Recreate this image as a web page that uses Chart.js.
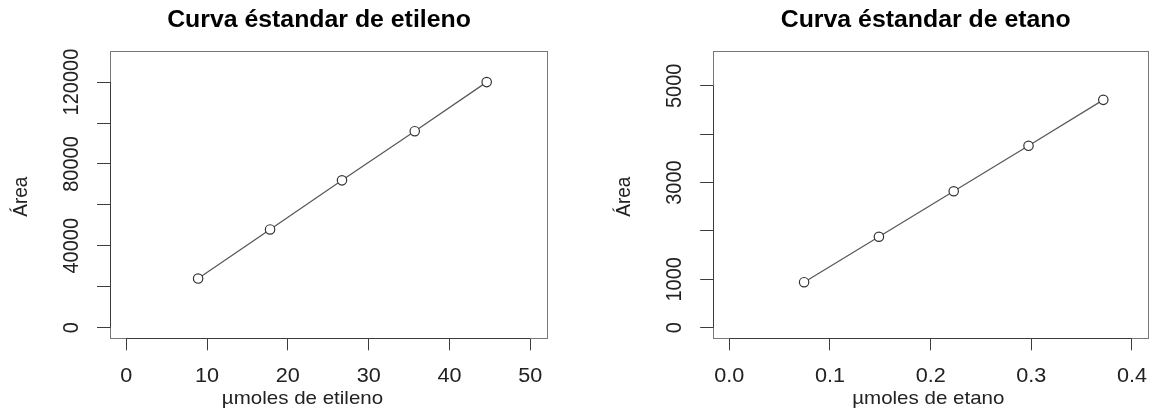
<!DOCTYPE html>
<html>
<head>
<meta charset="utf-8">
<script src="https://cdn.jsdelivr.net/npm/chart.js@4.4.1/dist/chart.umd.min.js"></script>
<style>
  html, body { margin: 0; padding: 0; background: #fff; }
  #wrap { position: relative; width: 1154px; height: 412px; }
  canvas { position: absolute; top: 0; }
  #etileno { left: 0; }
  #etano { left: 577px; }
</style>
</head>
<body>
<div id="wrap">
  <canvas id="etileno" width="577" height="412"></canvas>
  <canvas id="etano" width="577" height="412"></canvas>
</div>
<script>
// calibration points (µmol vs. peak area)
const etilenoUmol = [8.9, 17.8, 26.7, 35.7, 44.6];
const etilenoArea = [24000, 48000, 72000, 96000, 120000];
const etanoUmol = [0.0743, 0.1486, 0.2229, 0.2972, 0.3715];
const etanoArea = [940, 1880, 2820, 3760, 4710];

// axis ticks (R style: every tick gets a mark, only some get a label)
const etilenoXTicks = [0, 10, 20, 30, 40, 50];
const etilenoYTicks = [0, 20000, 40000, 60000, 80000, 100000, 120000];
const etilenoYLabels = [0, 40000, 80000, 120000];
const etanoXTicks = [0, 0.1, 0.2, 0.3, 0.4];
const etanoYTicks = [0, 1000, 2000, 3000, 4000, 5000];
const etanoYLabels = [0, 1000, 3000, 5000];

const FONT = '"Liberation Sans", Arial, Helvetica, sans-serif';
const SX = 1.08; // text is a little wider than tall

Chart.defaults.font.family = FONT;

function wideText(ctx, text, x, y, rotate) {
  ctx.save();
  ctx.translate(x, y);
  ctx.scale(SX, 1);
  if (rotate) ctx.rotate(-Math.PI / 2);
  ctx.fillText(text, 0, 0);
  ctx.restore();
}

// box, axis lines and all the text, drawn the way base R does it
const rAxes = {
  id: "rAxes",
  afterDraw(chart, args, o) {
    const ctx = chart.ctx;
    const a = chart.chartArea;
    const xs = chart.scales.x;
    const ys = chart.scales.y;

    ctx.save();
    ctx.strokeStyle = "#777";
    ctx.lineWidth = 1;
    ctx.strokeRect(Math.round(a.left) + 0.5, Math.round(a.top) + 0.5,
      Math.round(a.right - a.left), Math.round(a.bottom - a.top));

    ctx.strokeStyle = "#3c3c3c";
    ctx.beginPath();
    const yb = Math.round(a.bottom) + 0.5;
    ctx.moveTo(xs.getPixelForValue(o.xTicks[0]), yb);
    ctx.lineTo(xs.getPixelForValue(o.xTicks[o.xTicks.length - 1]), yb);
    const xl = Math.round(a.left) + 0.5;
    ctx.moveTo(xl, ys.getPixelForValue(o.yTicks[0]));
    ctx.lineTo(xl, ys.getPixelForValue(o.yTicks[o.yTicks.length - 1]));
    ctx.stroke();

    ctx.fillStyle = "#222";
    ctx.font = "20px " + FONT;
    ctx.textAlign = "center";
    ctx.textBaseline = "alphabetic";
    o.xTicks.forEach((v) => {
      wideText(ctx, o.xFormat(v), xs.getPixelForValue(v), 381.5);
    });
    o.yLabels.forEach((v) => {
      wideText(ctx, String(v), a.left - 32.5, ys.getPixelForValue(v), true);
    });

    ctx.font = "19px " + FONT;
    wideText(ctx, o.xTitle, o.xTitleCenter, 404);
    wideText(ctx, "Área", a.left - 83.5, (a.top + a.bottom) / 2 + 2, true);

    ctx.fillStyle = "#000";
    ctx.font = "bold 23px " + FONT;
    wideText(ctx, o.title, o.titleCenter, 27);
    ctx.restore();
  },
};

function makePanel(id, xVals, yVals, cfg) {
  return new Chart(document.getElementById(id), {
    type: "scatter",
    data: {
      datasets: [
        {
          data: xVals.map((x, i) => ({ x: x, y: yVals[i] })),
          showLine: true,
          borderColor: "#5a5a5a",
          borderWidth: 1.3,
          pointRadius: 4.7,
          pointBorderWidth: 1.2,
          pointBorderColor: "#333",
          pointBackgroundColor: "#fff",
        },
      ],
    },
    options: {
      responsive: false,
      animation: false,
      events: [],
      layout: { padding: { top: 51, right: cfg.padRight, left: 0, bottom: 0 } },
      scales: {
        x: {
          type: "linear",
          min: cfg.xMin,
          max: cfg.xMax,
          afterBuildTicks: (s) => { s.ticks = cfg.xTicks.map((v) => ({ value: v })); },
          afterFit: (s) => { s.height = 73.7; },
          ticks: { display: false },
          border: { display: false },
          grid: { drawOnChartArea: false, tickLength: 12, color: "#3c3c3c", lineWidth: 1 },
        },
        y: {
          type: "linear",
          min: cfg.yMin,
          max: cfg.yMax,
          afterBuildTicks: (s) => { s.ticks = cfg.yTicks.map((v) => ({ value: v })); },
          afterFit: (s) => { s.width = cfg.left; },
          ticks: { display: false },
          border: { display: false },
          grid: { drawOnChartArea: false, tickLength: 13, color: "#3c3c3c", lineWidth: 1 },
        },
      },
      plugins: {
        legend: { display: false },
        tooltip: { enabled: false },
        rAxes: cfg,
      },
    },
    plugins: [rAxes],
  });
}

makePanel("etileno", etilenoUmol, etilenoArea, {
  title: "Curva éstandar de etileno",
  xTitle: "µmoles de etileno",
  titleCenter: 319,
  xTitleCenter: 302.5,
  left: 110,
  padRight: 30.5,
  xMin: -2, xMax: 52,
  yMin: -5200, yMax: 135200,
  xTicks: etilenoXTicks,
  yTicks: etilenoYTicks,
  yLabels: etilenoYLabels,
  xFormat: (v) => String(v),
});

makePanel("etano", etanoUmol, etanoArea, {
  title: "Curva éstandar de etano",
  xTitle: "µmoles de etano",
  titleCenter: 348.7,
  xTitleCenter: 351.3,
  left: 136.2,
  padRight: 5,
  xMin: -0.016, xMax: 0.416,
  yMin: -220, yMax: 5720,
  xTicks: etanoXTicks,
  yTicks: etanoYTicks,
  yLabels: etanoYLabels,
  xFormat: (v) => v.toFixed(1),
});
</script>
</body>
</html>
